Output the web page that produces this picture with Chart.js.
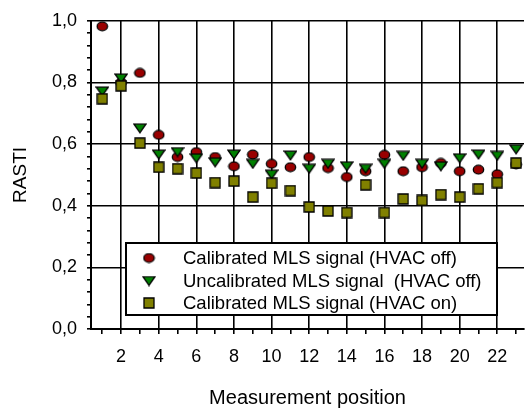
<!DOCTYPE html>
<html>
<head>
<meta charset="utf-8">
<script src="https://cdn.jsdelivr.net/npm/chart.js@4.4.1/dist/chart.umd.min.js"></script>
<style>
  html, body { margin:0; padding:0; background:#fff; overflow:hidden; }
  canvas { display:block; }
</style>
</head>
<body>
<canvas id="chart" width="529" height="408"></canvas>
<script>
// measurement positions 1..23
const positions = [1,2,3,4,5,6,7,8,9,10,11,12,13,14,15,16,17,18,19,20,21,22,23];

const calOff = [0.982,0.80,0.831,0.630,0.558,0.574,0.558,0.528,0.566,0.536,0.525,0.558,
                0.522,0.493,0.512,0.565,0.512,0.525,0.539,0.512,0.517,0.502,0.534];
const uncalOff = [0.771,0.813,0.651,0.566,0.574,0.554,0.541,0.566,0.536,0.501,0.563,0.520,
                  0.536,0.528,0.520,0.536,0.562,0.536,0.528,0.554,0.566,0.562,0.583];
const calOn = [0.747,0.789,0.603,0.525,0.520,0.506,0.475,0.480,0.428,0.473,0.449,0.396,
               0.383,0.378,0.468,0.378,0.422,0.417,0.436,0.428,0.455,0.475,0.539];

const xLabels = [2,4,6,8,10,12,14,16,18,20,22];
const yLabels = [0,0.2,0.4,0.6,0.8,1.0];

const seriesNames = [
  "Calibrated MLS signal (HVAC off)",
  "Uncalibrated MLS signal  (HVAC off)",
  "Calibrated MLS signal (HVAC on)"
];

const FONT = "'Liberation Sans', Arial, sans-serif";

// little marker images, same as the original symbols
function marker(w, h, draw){
  const c = document.createElement("canvas");
  c.width = w; c.height = h;
  const g = c.getContext("2d");
  g.lineWidth = 1.3;
  g.strokeStyle = "#000";
  draw(g);
  return c;
}
const dotImg = marker(13, 11, g => {
  g.beginPath();
  g.ellipse(6.5, 5.5, 5.2, 4.3, 0, 0, Math.PI*2);
  g.fillStyle = "#990000"; g.fill(); g.stroke();
});
const triImg = marker(14, 11, g => {
  g.beginPath();
  g.moveTo(1, 1.2); g.lineTo(13, 1.2); g.lineTo(7, 9.8); g.closePath();
  g.fillStyle = "#008000"; g.fill(); g.stroke();
});
const sqImg = marker(12, 12, g => {
  g.beginPath();
  g.rect(1, 1, 10, 10);
  g.fillStyle = "#808000"; g.fill(); g.stroke();
});
const markers = [dotImg, triImg, sqImg];

function pts(arr){
  return positions.map((p,i) => ({ x:p, y:arr[i] }));
}

function isMajorY(v){
  return yLabels.some(l => Math.abs(l - v) < 1e-6);
}

const legendBox = {
  id: "legendBox",
  afterDraw(chart){
    const ctx = chart.ctx;
    ctx.save();
    ctx.fillStyle = "#fff";
    ctx.fillRect(126, 243, 371, 72);
    ctx.strokeStyle = "#000";
    ctx.lineWidth = 2;
    ctx.strokeRect(126, 243, 371, 72);
    ctx.font = "18.5px " + FONT;
    ctx.fillStyle = "#000";
    ctx.textBaseline = "middle";
    const rows = [258, 281, 303];
    rows.forEach((y, i) => {
      const m = markers[i];
      ctx.drawImage(m, 149 - m.width/2, y - m.height/2);
      ctx.fillText(seriesNames[i], 183, y + 1);
    });
    ctx.restore();
  }
};

new Chart(document.getElementById("chart"), {
  type: "scatter",
  data: {
    datasets: [
      { label: seriesNames[0], data: pts(calOff), pointStyle: dotImg, order: 3 },
      { label: seriesNames[1], data: pts(uncalOff), pointStyle: triImg, order: 2 },
      { label: seriesNames[2], data: pts(calOn), pointStyle: sqImg, order: 1 }
    ]
  },
  options: {
    responsive: false,
    animation: false,
    devicePixelRatio: 1,
    layout: { padding: { top: 20, right: 0, left: 0, bottom: 0 } },
    plugins: { legend: { display: false }, tooltip: { enabled: false } },
    scales: {
      x: {
        type: "linear",
        min: 0.4,
        max: 23.42,
        afterBuildTicks: s => { s.ticks = positions.map(v => ({ value: v })); },
        afterFit: s => { s.height = 79; },
        ticks: {
          autoSkip: false,
          maxRotation: 0,
          padding: 12,
          color: "#000",
          font: { family: FONT, size: 18 },
          callback: v => xLabels.includes(v) ? String(v) : ""
        },
        grid: {
          color: c => (c.tick && xLabels.includes(c.tick.value)) ? "#000" : "rgba(0,0,0,0)",
          tickColor: "#000",
          lineWidth: 1.6,
          tickLength: 5
        },
        border: { color: "#000", width: 2 },
        title: {
          display: true,
          text: "Measurement position",
          color: "#000",
          font: { family: FONT, size: 20, lineHeight: 1 },
          padding: { top: 0, bottom: 0 }
        }
      },
      y: {
        type: "linear",
        min: 0,
        max: 1,
        afterBuildTicks: s => {
          const t = [];
          for (let i = 0; i <= 25; i++) t.push({ value: i * 0.04 });
          s.ticks = t;
        },
        afterFit: s => { s.width = 91; },
        ticks: {
          autoSkip: false,
          padding: 10,
          color: "#000",
          font: { family: FONT, size: 18 },
          callback: v => isMajorY(v) ? v.toFixed(1).replace(".", ",") : ""
        },
        grid: {
          color: c => (c.tick && isMajorY(c.tick.value)) ? "#000" : "rgba(0,0,0,0)",
          tickColor: "#000",
          lineWidth: 1.6,
          tickLength: 4
        },
        border: { color: "#000", width: 2 },
        title: {
          display: true,
          text: "RASTI",
          color: "#000",
          font: { family: FONT, size: 19, lineHeight: 1.2 },
          padding: { top: 9, bottom: 0 }
        }
      }
    }
  },
  plugins: [legendBox]
});
</script>
</body>
</html>
